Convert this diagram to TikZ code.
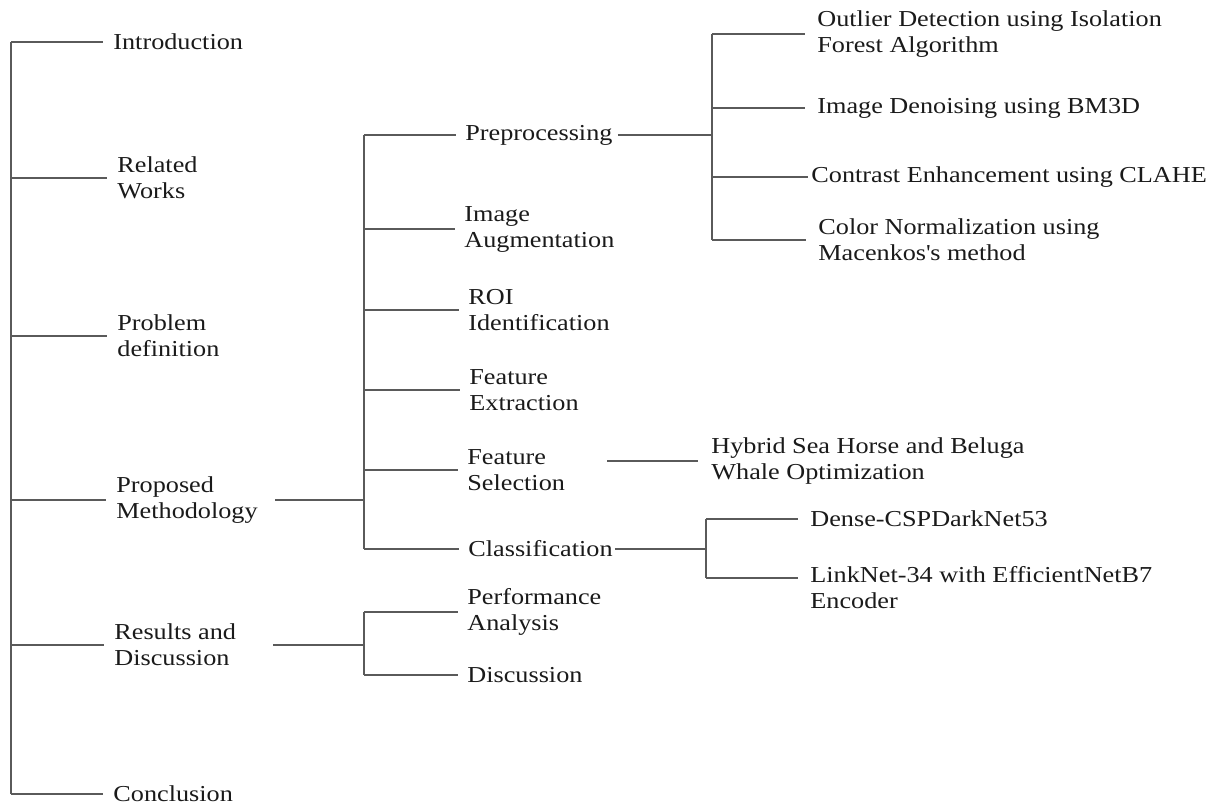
\documentclass[tikz,border=0pt]{standalone}
\usepackage{fontspec}
\setmainfont[FakeStretch=1.15]{Liberation Serif}
\usetikzlibrary{calc}
\definecolor{lineGray}{HTML}{5A5A5A}
\definecolor{textDark}{HTML}{1A1A1A}
\tikzset{
  treeline/.style={draw=lineGray,line width=0.8pt},
  topic/.style={anchor=west,inner sep=0pt,align=left,text=textDark,
    font=\fontsize{11.4}{13}\selectfont},
}
\begin{document}
\begin{tikzpicture}[x=0.5pt,y=-0.5pt]

\useasboundingbox (0,0) rectangle (1208,805);

\node[topic] (intro)    at (113,42)  {Introduction};
\node[topic] (related)  at (117,178) {Related\\Works};
\node[topic] (problem)  at (117,336) {Problem\\definition};
\node[topic] (proposed) at (116,500) {Proposed\\Methodology};
\node[topic] (results)  at (114,645) {Results and\\Discussion};
\node[topic] (conc)     at (113,794) {Conclusion};

\coordinate (trunk) at (11,0);
\draw[treeline] (intro.west -| trunk) -- (conc.west -| trunk);
\foreach \n in {intro,related,problem,proposed,results,conc}
  \draw[treeline,shorten >=5pt] (\n.west -| trunk) -- (\n.west);

\node[topic] (pre)  at (465,135) {Preprocessing};
\node[topic] (aug)  at (464,229) {Image\\Augmentation};
\node[topic] (roi)  at (468,310) {ROI\\Identification};
\node[topic] (fext) at (469,390) {Feature\\Extraction};
\node[topic] (fsel) at (467,470) {Feature\\Selection};
\node[topic] (cls)  at (468,549) {Classification};

\coordinate (spineA) at (364,0);
\draw[treeline] (pre.west -| spineA) -- (cls.west -| spineA);
\foreach \n in {pre,aug,roi,fext,fsel,cls}
  \draw[treeline,shorten >=4.5pt] (\n.west -| spineA) -- (\n.west);
\draw[treeline,shorten <=8.5pt] (proposed.east) -- (proposed.east -| spineA);

\node[topic] (perf) at (467,612) {Performance\\Analysis};
\node[topic] (disc) at (467,675) {Discussion};

\draw[treeline] (perf.west -| spineA) -- (disc.west -| spineA);
\foreach \n in {perf,disc}
  \draw[treeline,shorten >=4.5pt] (\n.west -| spineA) -- (\n.west);
\draw[treeline,shorten <=18.5pt] (results.east) -- (results.east -| spineA);

\node[topic] (outl) at (817,34)  {Outlier Detection using Isolation\\Forest Algorithm};
\node[topic] (deno) at (817,108) {Image Denoising using BM3D};
\node[topic] (cont) at (811,177) {Contrast Enhancement using CLAHE};
\node[topic] (colr) at (818,240) {Color Normalization using\\Macenkos\textquotesingle s method};

\coordinate (spineB) at (712,0);
\draw[treeline] (outl.west -| spineB) -- (colr.west -| spineB);
\foreach \n in {outl,deno,colr}
  \draw[treeline,shorten >=6pt] (\n.west -| spineB) -- (\n.west);
\draw[treeline,shorten >=1.5pt] (cont.west -| spineB) -- (cont.west);
\draw[treeline,shorten <=2.5pt] (pre.east) -- (pre.east -| spineB);

\node[topic] (hyb) at (711,461) {Hybrid Sea Horse and Beluga\\Whale Optimization};
\draw[treeline,shorten <=21pt,shorten >=6.5pt] (fsel.east |- hyb.west) -- (hyb.west);

\node[topic] (dense)   at (810,519) {Dense-CSPDarkNet53};
\node[topic] (linknet) at (810,588) {LinkNet-34 with EfficientNetB7\\Encoder};

\coordinate (spineC) at (706,0);
\coordinate (linkjoin) at ($(linknet.west)+(0,-10)$);
\draw[treeline] (dense.west -| spineC) -- (linkjoin -| spineC);
\draw[treeline,shorten >=6pt] (dense.west -| spineC) -- (dense.west);
\draw[treeline,shorten >=6pt] (linkjoin -| spineC) -- (linkjoin);
\draw[treeline,shorten <=1pt] (cls.east) -- (cls.east -| spineC);

\end{tikzpicture}
\end{document}
